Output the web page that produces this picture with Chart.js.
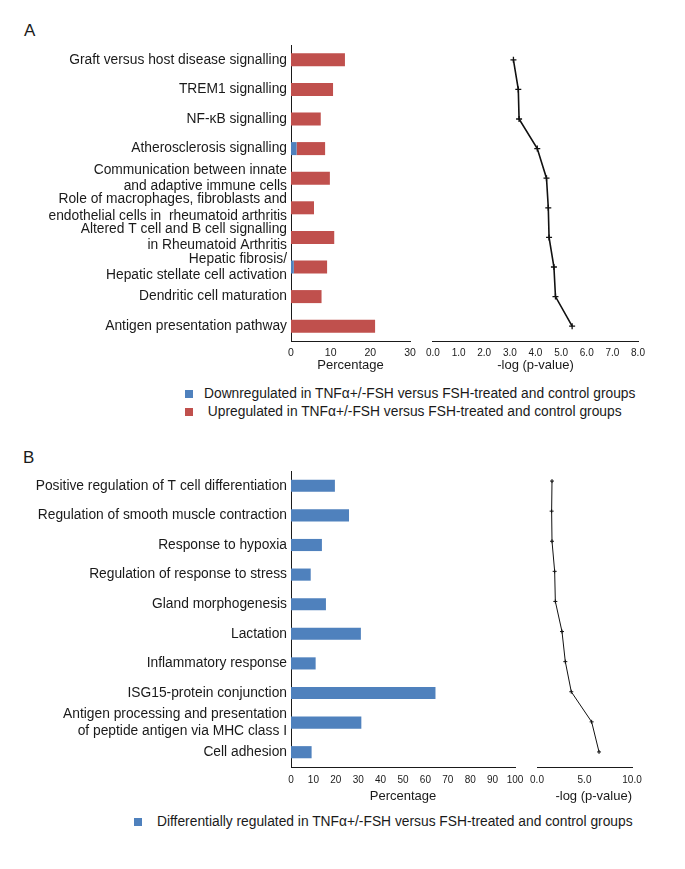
<!DOCTYPE html>
<html>
<head>
<meta charset="utf-8">
<script src="https://cdn.jsdelivr.net/npm/chart.js@4.4.0/dist/chart.umd.min.js"></script>
<style>
  body { margin: 0; background: #fff; }
  #wrap { position: relative; width: 685px; height: 869px; font-family: 'Liberation Sans', Arial, sans-serif; color: #1a1a1a; }
  canvas { position: absolute; }
  .panel { position: absolute; font-size: 17px; }
  .leg { position: absolute; font-size: 13.8px; line-height: 18px; white-space: pre; }
  .sw { position: absolute; width: 8px; height: 8px; }
</style>
</head>
<body>
<div id="wrap">
  <div class="panel" style="left:24px; top:21px;">A</div>
  <div class="panel" style="left:23px; top:448px;">B</div>

  <canvas id="barA" width="430" height="347" style="left:0; top:30px;"></canvas>
  <canvas id="lineA" width="240" height="347" style="left:420px; top:30px;"></canvas>
  <canvas id="barB" width="535" height="353" style="left:0; top:455px;"></canvas>
  <canvas id="lineB" width="150" height="353" style="left:520px; top:455px;"></canvas>

  <div class="sw" style="left:185px; top:390px; background:#4f81bd;"></div>
  <div class="leg" style="left:204px; top:385px;">Downregulated in TNFα+/-FSH versus FSH-treated and control groups</div>
  <div class="sw" style="left:185px; top:408px; background:#c0504d;"></div>
  <div class="leg" style="left:204px; top:403px;"> Upregulated in TNFα+/-FSH versus FSH-treated and control groups</div>

  <div class="sw" style="left:134px; top:818px; background:#4f81bd;"></div>
  <div class="leg" style="left:157px; top:813px;">Differentially regulated in TNFα+/-FSH versus FSH-treated and control groups</div>
</div>
<script>
// panel A: canonical pathways
const pathwaysA = [
  'Graft versus host disease signalling',
  'TREM1 signalling',
  'NF-κB signalling',
  'Atherosclerosis signalling',
  ['Communication between innate', 'and adaptive immune cells'],
  ['Role of macrophages, fibroblasts and', 'endothelial cells in  rheumatoid arthritis'],
  ['Altered T cell and B cell signalling', 'in Rheumatoid Arthritis'],
  ['Hepatic fibrosis/', 'Hepatic stellate cell activation'],
  'Dendritic cell maturation',
  'Antigen presentation pathway'
];
const downA = [0, 0, 0, 1.4, 0, 0, 0, 0.7, 0, 0];
const upA = [13.6, 10.6, 7.5, 7.2, 9.8, 5.8, 10.9, 8.4, 7.7, 21.2];
const logPA = [3.14, 3.33, 3.36, 4.07, 4.43, 4.50, 4.53, 4.72, 4.78, 5.43];

// panel B: GO terms
const termsB = [
  'Positive regulation of T cell differentiation',
  'Regulation of smooth muscle contraction',
  'Response to hypoxia',
  'Regulation of response to stress',
  'Gland morphogenesis',
  'Lactation',
  'Inflammatory response',
  'ISG15-protein conjunction',
  ['Antigen processing and presentation', 'of peptide antigen via MHC class I'],
  'Cell adhesion'
];
const pctB = [19.6, 25.9, 13.8, 8.8, 15.6, 31.2, 11.0, 64.5, 31.4, 9.2];
const logPB = [1.58, 1.54, 1.58, 1.86, 1.93, 2.63, 2.98, 3.61, 5.75, 6.53];

const BLUE = '#4f81bd';
const RED = '#c0504d';
const INK = '#1a1a1a';

Chart.defaults.font.family = "'Liberation Sans', Arial, sans-serif";
Chart.defaults.color = INK;
Chart.defaults.animation = false;

const noLegend = { legend: { display: false }, tooltip: { enabled: false } };

function xAxis(max, step, digits, title, fontSize, height, pad, align) {
  return {
    type: 'linear', min: 0, max: max,
    grid: { display: false, drawTicks: false },
    border: { display: true, color: INK, width: 1 },
    ticks: {
      stepSize: step, padding: pad, font: { size: fontSize }, color: INK,
      maxRotation: 0, minRotation: 0, autoSkip: false,
      callback: v => v.toFixed(digits)
    },
    title: { display: true, text: title, font: { size: 13 }, color: INK, align: align || 'center' },
    afterFit(scale) { scale.height = height; }
  };
}

function catAxis(labels, show) {
  return {
    type: 'category', labels: labels, offset: true, display: show,
    grid: { display: false, drawTicks: false },
    border: { display: show, color: INK, width: 1 },
    ticks: { padding: 4, font: { size: 13.8 }, color: INK, autoSkip: false },
    afterFit(scale) { if (show) scale.width = 291; }
  };
}

new Chart(document.getElementById('barA'), {
  type: 'bar',
  data: {
    labels: pathwaysA,
    datasets: [
      { label: 'Downregulated', data: downA, backgroundColor: BLUE, barPercentage: 0.44, categoryPercentage: 1 },
      { label: 'Upregulated', data: upA, backgroundColor: RED, barPercentage: 0.44, categoryPercentage: 1 }
    ]
  },
  options: {
    indexAxis: 'y', responsive: false,
    layout: { padding: { top: 15, right: 20, left: 0, bottom: 0 } },
    plugins: noLegend,
    scales: {
      x: Object.assign(xAxis(30, 10, 0, 'Percentage', 10.5, 36, 6), { stacked: true }),
      y: Object.assign(catAxis(pathwaysA, true), { stacked: true })
    }
  }
});

new Chart(document.getElementById('lineA'), {
  type: 'line',
  data: {
    labels: pathwaysA,
    datasets: [{
      data: logPA, borderColor: '#111', borderWidth: 1.6,
      pointStyle: 'cross', pointRadius: 3, pointBorderWidth: 1.3,
      pointBorderColor: '#111', pointBackgroundColor: '#111'
    }]
  },
  options: {
    indexAxis: 'y', responsive: false,
    layout: { padding: { top: 15, right: 22, left: 12, bottom: 0 } },
    plugins: noLegend,
    scales: {
      x: xAxis(8, 1, 1, '-log (p-value)', 10, 36, 6),
      y: catAxis(pathwaysA, false)
    }
  }
});

new Chart(document.getElementById('barB'), {
  type: 'bar',
  data: {
    labels: termsB,
    datasets: [
      { label: 'Differentially regulated', data: pctB, backgroundColor: BLUE, barPercentage: 0.41, categoryPercentage: 1 }
    ]
  },
  options: {
    indexAxis: 'y', responsive: false,
    layout: { padding: { top: 16, right: 20, left: 0, bottom: 0 } },
    plugins: noLegend,
    scales: {
      x: xAxis(100, 10, 0, 'Percentage', 10, 41, 7),
      y: catAxis(termsB, true)
    }
  }
});

new Chart(document.getElementById('lineB'), {
  type: 'line',
  data: {
    labels: termsB,
    datasets: [{
      data: logPB, borderColor: '#111', borderWidth: 1,
      pointStyle: 'cross', pointRadius: 2, pointBorderWidth: 1,
      pointBorderColor: '#111', pointBackgroundColor: '#111'
    }]
  },
  options: {
    indexAxis: 'y', responsive: false,
    layout: { padding: { top: 11, right: 38, left: 17, bottom: 0 } },
    plugins: noLegend,
    scales: {
      x: xAxis(10, 5, 1, '-log (p-value)', 10, 41, 7, 'end'),
      y: catAxis(termsB, false)
    }
  }
});
</script>
</body>
</html>
